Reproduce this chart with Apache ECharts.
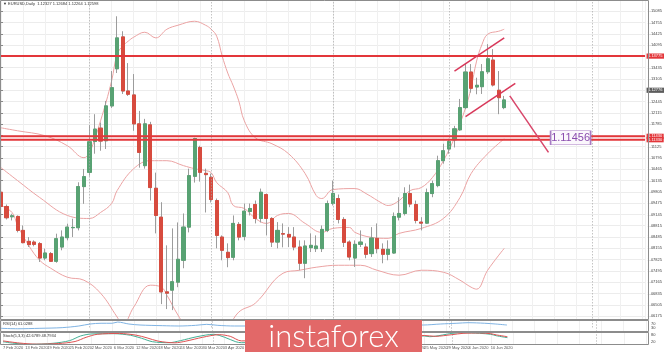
<!DOCTYPE html>
<html><head><meta charset="utf-8">
<script src="https://cdn.jsdelivr.net/npm/echarts@6/dist/echarts.min.js"></script>
<style>html,body{margin:0;padding:0;background:#fff}#c{width:665px;height:352px}</style>
</head><body><div id="c"></div>
<script>
const dates = ["7 Feb 2020","10 Feb 2020","11 Feb 2020","12 Feb 2020","13 Feb 2020","14 Feb 2020","17 Feb 2020","18 Feb 2020","19 Feb 2020","20 Feb 2020","21 Feb 2020","24 Feb 2020","25 Feb 2020","26 Feb 2020","27 Feb 2020","28 Feb 2020","2 Mar 2020","3 Mar 2020","4 Mar 2020","5 Mar 2020","6 Mar 2020","9 Mar 2020","10 Mar 2020","11 Mar 2020","12 Mar 2020","13 Mar 2020","16 Mar 2020","17 Mar 2020","18 Mar 2020","19 Mar 2020","20 Mar 2020","23 Mar 2020","24 Mar 2020","25 Mar 2020","26 Mar 2020","27 Mar 2020","30 Mar 2020","31 Mar 2020","1 Apr 2020","2 Apr 2020","3 Apr 2020","6 Apr 2020","7 Apr 2020","8 Apr 2020","9 Apr 2020","10 Apr 2020","13 Apr 2020","14 Apr 2020","15 Apr 2020","16 Apr 2020","17 Apr 2020","20 Apr 2020","21 Apr 2020","22 Apr 2020","23 Apr 2020","24 Apr 2020","27 Apr 2020","28 Apr 2020","29 Apr 2020","30 Apr 2020","1 May 2020","4 May 2020","5 May 2020","6 May 2020","7 May 2020","8 May 2020","11 May 2020","12 May 2020","13 May 2020","14 May 2020","15 May 2020","18 May 2020","19 May 2020","20 May 2020","21 May 2020","22 May 2020","25 May 2020","26 May 2020","27 May 2020","28 May 2020","29 May 2020","1 Jun 2020","2 Jun 2020","3 Jun 2020","4 Jun 2020","5 Jun 2020","8 Jun 2020","9 Jun 2020","10 Jun 2020","11 Jun 2020","12 Jun 2020","15 Jun 2020"];

const opens = [1.09794,1.09378,1.09078,1.09087,1.08679,1.08359,1.08338,1.08292,1.07872,1.08000,1.07776,1.08193,1.08466,1.08758,1.08758,1.09960,1.10376,1.11279,1.11669,1.11300,1.12319,1.13405,1.14336,1.12755,1.12639,1.11794,1.10572,1.11765,1.09911,1.09066,1.06882,1.06932,1.07165,1.07805,1.08775,1.10260,1.11104,1.10347,1.10231,1.09552,1.08484,1.08038,1.07893,1.08854,1.08504,1.09232,1.09436,1.09028,1.09727,1.09028,1.08338,1.08583,1.08562,1.08484,1.08193,1.07718,1.08175,1.08146,1.08146,1.08679,1.09465,1.09611,1.08999,1.08338,1.07872,1.08271,1.08193,1.08000,1.08446,1.08126,1.07980,1.08018,1.09066,1.09174,1.09756,1.09436,1.08921,1.08891,1.09756,1.09989,1.10717,1.11058,1.11329,1.11620,1.12269,1.13309,1.12872,1.12881,1.13317,1.13658,1.12776,1.12269];
const closes = [1.09378,1.09049,1.09107,1.08679,1.08321,1.08263,1.08271,1.07872,1.08018,1.07776,1.08437,1.08484,1.08775,1.08766,1.09960,1.10251,1.11270,1.11640,1.11291,1.12319,1.12851,1.14307,1.12755,1.12659,1.11794,1.10959,1.11794,1.09931,1.09116,1.06882,1.06844,1.07179,1.07834,1.08775,1.10280,1.11366,1.10376,1.10310,1.09582,1.08533,1.08097,1.07884,1.08883,1.08484,1.09241,1.09320,1.09028,1.09794,1.09028,1.08338,1.08679,1.08571,1.08484,1.08193,1.07718,1.08222,1.08242,1.08222,1.08708,1.09465,1.09756,1.08999,1.08329,1.07901,1.08271,1.08338,1.07980,1.08455,1.08146,1.07980,1.08126,1.09087,1.09174,1.09756,1.09451,1.08970,1.08891,1.09785,1.10047,1.10717,1.11008,1.11279,1.11649,1.12269,1.13309,1.12834,1.12921,1.13317,1.13696,1.12930,1.12560,1.12493];
const highs = [1.09873,1.09436,1.09165,1.09116,1.08824,1.08484,1.08388,1.08338,1.08146,1.08047,1.08583,1.08679,1.08874,1.09020,1.10085,1.10475,1.11765,1.12077,1.11832,1.12464,1.13338,1.14939,1.14502,1.13571,1.13250,1.12173,1.11940,1.11853,1.10368,1.09503,1.08242,1.08737,1.08912,1.09174,1.10484,1.11387,1.11154,1.10484,1.10339,1.09611,1.08533,1.08300,1.09116,1.08921,1.09465,1.09465,1.09552,1.09902,1.09756,1.09066,1.08921,1.08883,1.08775,1.08775,1.08388,1.08388,1.08592,1.08533,1.08824,1.09552,1.10135,1.09727,1.09066,1.08388,1.08388,1.08679,1.08300,1.08775,1.08883,1.08300,1.08388,1.09203,1.09649,1.09940,1.10018,1.09552,1.09066,1.09902,1.10135,1.10863,1.11212,1.11358,1.11736,1.12522,1.13571,1.13542,1.13143,1.13542,1.14124,1.13978,1.13338,1.12610];
const lows = [1.09320,1.08999,1.08970,1.08621,1.08300,1.08193,1.08213,1.07756,1.07805,1.07756,1.07733,1.08097,1.08388,1.08484,1.08679,1.09456,1.10280,1.10921,1.11008,1.11058,1.12260,1.13280,1.12668,1.12610,1.11591,1.10513,1.10484,1.09552,1.08592,1.06524,1.06379,1.06349,1.07019,1.07572,1.08621,1.10077,1.10106,1.09203,1.09494,1.08155,1.07805,1.07602,1.07805,1.08388,1.08388,1.09116,1.08883,1.08912,1.08533,1.08193,1.08155,1.08184,1.08193,1.08097,1.07514,1.07281,1.08047,1.08047,1.08047,1.08629,1.09407,1.08883,1.08193,1.07805,1.07610,1.08193,1.07864,1.07901,1.08009,1.07718,1.07805,1.07995,1.08970,1.09116,1.09357,1.08883,1.08679,1.08868,1.09649,1.09940,1.10630,1.10921,1.11104,1.11591,1.12223,1.12706,1.12659,1.12668,1.13250,1.12886,1.12077,1.12223];

const bbUpper = [[0,1.11678],[3,1.11591],[8,1.11445],[12,1.11154],[15,1.10805],[16,1.10950],[18,1.11882],[20,1.13047],[21,1.13833],[22,1.14066],[23,1.14211],[24,1.14328],[26,1.14473],[28,1.14307],[30,1.14561],[32,1.14677],[35,1.14794],[37,1.14677],[38,1.14561],[39,1.14357],[40,1.13775],[41,1.13280],[42,1.12901],[43,1.12464],[44,1.11882],[46,1.11387],[49,1.11212],[52,1.10921],[55,1.10339],[57,1.09698],[58,1.09611],[60,1.09873],[64,1.09902],[66,1.09756],[69,1.09465],[70,1.09407],[72,1.09552],[74,1.09844],[76,1.09931],[78,1.10222],[80,1.10717],[82,1.11387],[84,1.12260],[85,1.12843],[86,1.13629],[87,1.14124],[88,1.14415],[90,1.14502],[91,1.14561]];
const bbMiddle = [[0,1.10513],[3,1.10135],[7,1.09640],[12,1.09116],[16,1.09028],[18,1.09203],[20,1.09465],[21,1.09844],[24,1.10484],[27,1.10717],[30,1.10717],[33,1.10572],[35,1.10484],[37,1.10426],[38,1.10368],[39,1.10077],[41,1.09785],[42,1.09407],[44,1.09320],[46,1.09028],[48,1.08883],[50,1.09116],[52,1.09174],[55,1.08883],[58,1.08621],[60,1.08737],[63,1.08766],[64,1.08621],[67,1.08475],[70,1.08446],[72,1.08592],[76,1.08737],[80,1.09028],[83,1.09640],[85,1.10339],[88,1.10921],[91,1.11358]];
const bbLower = [[0,1.09407],[2,1.09203],[3,1.08824],[5,1.08242],[7,1.07805],[9,1.07572],[12,1.07310],[15,1.07223],[18,1.06844],[21,1.06146],[22,1.05913],[24,1.06437],[27,1.07077],[29,1.07019],[30,1.06786],[32,1.06204],[34,1.05767],[39,1.05476],[43,1.06291],[46,1.06553],[51,1.07427],[54,1.07514],[57,1.07602],[61,1.07660],[65,1.07660],[68,1.07514],[72,1.07369],[76,1.07514],[80,1.07456],[83,1.07223],[85,1.07019],[86,1.06961],[88,1.07514],[91,1.08155]];

const rsiValues = [[0,29],[3,25],[7,29],[11,35],[14,50],[16,68],[18,75],[20,75],[21,86],[23,68],[25,59],[29,53],[32,50],[35,56],[37,65],[39,56],[42,50],[76,59],[79,68],[82,75],[84,80],[87,75],[89,68],[91,59]];
const stochMain = [[0,23],[2,10],[5,2],[9,10],[12,32],[14,71],[16,88],[20,90],[23,77],[25,52],[27,23],[30,15],[32,32],[35,65],[38,85],[40,60],[42,23],[43,15],[76,71],[77,65],[80,85],[81,93],[83,98],[86,93],[88,85],[89,73],[91,57]];
const stochSignal = [[0,30],[3,12],[6,3],[10,8],[13,25],[15,60],[17,85],[21,92],[24,78],[26,55],[28,28],[31,14],[33,28],[36,60],[39,82],[41,68],[43,30],[76,75],[78,68],[81,82],[83,93],[86,96],[88,90],[89,80],[91,65]];

const channelUpper = [[82,1.13338],[91,1.14307]];
const channelLower = [[84,1.12007],[93,1.12980]];
const arrowLine = [[92,1.12610],[99,1.10959]];
const levelPrices = [1.13775,1.11430,1.11330];
const currentPrice = 1.12776;
const separators = [16,38,60,81,107];
const targetNote = [[103,1.11387]];
const targetText = '1.11456';

const priceMin = 1.05845, priceMax = 1.15415, priceStep = 0.0033;
const xMax = 116.46;

const chart = echarts.init(document.getElementById('c'), null, {renderer:'canvas', width:665, height:352});
const FONT = 'Liberation Sans, Arial, sans-serif';
const wickData = opens.map((o,i)=>[i,o,closes[i],lows[i],highs[i]]);
const bodyData = opens.map((o,i)=>[i,o,closes[i],Math.min(o,closes[i]),Math.max(o,closes[i])]);
const sepLine = {silent:true, symbol:['none','none'], label:{show:false}, lineStyle:{color:'#a8a8a8', type:[1,2], width:1}, data: separators.map(v=>({xAxis:v}))};
const red = '#e3363a';
const endLbl = (bg, txt)=>({show:true, distance:1.5, fontSize:4, color:'#fff', backgroundColor:bg, padding:[0.6,1.5], fontFamily:FONT, formatter:txt});
const xBase = {type:'value', min:0, max:xMax, interval:4, axisLine:{show:false}, axisTick:{show:false}, axisLabel:{show:false}, splitLine:{show:true, lineStyle:{color:'#f0f0f0', width:1}}};

const levelSeries = levelPrices.map(v=>({type:'line', data:[[0,v],[xMax,v]], symbol:'none', z:6, silent:true,
  lineStyle:{color:red, width:2}, endLabel:endLbl(red, v.toFixed(5))}));
const priceSeries = {type:'line', data:[[0,currentPrice],[xMax,currentPrice]], symbol:'none', z:6, silent:true,
  lineStyle:{opacity:0}, endLabel:endLbl('#5c5c5c', currentPrice.toFixed(5))};

const option = {
  animation:false,
  textStyle:{fontFamily:FONT},
  grid:[
    {left:1, top:-1.333, width:647.5, height:328.667},
    {left:1, top:320.5, width:647.5, height:11},
    {left:1, top:332.5, width:647.5, height:12}
  ],
  xAxis:[
    Object.assign({gridIndex:0}, xBase),
    Object.assign({gridIndex:1, z:10}, xBase),
    Object.assign({}, xBase, {gridIndex:2, z:10, axisLabel:{show:true, fontSize:4, color:'#555', align:'left', margin:1.5, formatter:v=>dates[v]||''}})
  ],
  yAxis:[
    {gridIndex:0, type:'value', position:'right', min:priceMin, max:priceMax, interval:priceStep,
     axisLine:{show:false}, axisTick:{show:true, length:2, lineStyle:{color:'#888'}},
     axisLabel:{fontSize:4, color:'#444', margin:2.5, showMinLabel:false, showMaxLabel:false, formatter:v=>v.toFixed(5)},
     splitLine:{show:true, lineStyle:{color:'#ececec', width:1}}},
    {gridIndex:1, type:'value', position:'right', min:0, max:100, interval:10, z:10,
     axisLine:{show:false}, axisTick:{show:false}, splitLine:{show:false},
     axisLabel:{fontSize:4, color:'#444', margin:2.5, formatter:v=>(v===30||v===70)?String(v):''}},
    {gridIndex:2, type:'value', position:'right', min:0, max:100, interval:10, z:10,
     axisLine:{show:false}, axisTick:{show:false}, splitLine:{show:false},
     axisLabel:{fontSize:4, color:'#444', margin:2.5, formatter:v=>(v===20||v===80)?String(v):''}}
  ],
  series:[
    {type:'line', name:'bbUpper', data:bbUpper, symbol:'none', smooth:0.4, lineStyle:{color:'#eba3a3', width:1}, z:2, markLine:sepLine},
    {type:'line', name:'bbMiddle', data:bbMiddle, symbol:'none', smooth:0.4, lineStyle:{color:'#eba3a3', width:1}, z:2},
    {type:'line', name:'bbLower', data:bbLower, symbol:'none', smooth:0.4, lineStyle:{color:'#eba3a3', width:1}, z:2},
    {type:'candlestick', name:'wicks', data:wickData, encode:{x:0, y:[1,2,3,4]}, barWidth:3.6, z:3,
     itemStyle:{color:'rgba(0,0,0,0)', color0:'rgba(0,0,0,0)', borderColor:'#9c9c9c', borderColor0:'#9c9c9c', borderWidth:1}},
    {type:'candlestick', name:'bodies', data:bodyData, encode:{x:0, y:[1,2,3,4]}, barWidth:3.6, z:4,
     itemStyle:{color:'#58a273', color0:'#d74b3e', borderColor:'#58a273', borderColor0:'#d74b3e', borderWidth:1}},
    ...levelSeries,
    priceSeries,
    {type:'line', data:channelUpper, symbol:'none', lineStyle:{color:'#d8385a', width:1.5}, z:7},
    {type:'line', data:channelLower, symbol:'none', lineStyle:{color:'#d8385a', width:1.5}, z:7},
    {type:'line', data:arrowLine, symbol:'none', lineStyle:{color:'#d8466a', width:1.5}, z:7},
    {type:'scatter', data:targetNote, symbol:'rect', symbolSize:[40,14], z:15,
     itemStyle:{color:'#fbf7fc', borderColor:'#a77cc4', borderWidth:1, opacity:1},
     label:{show:true, position:'inside', formatter:targetText, color:'#8a4cae', fontSize:11, fontFamily:FONT}},
    {type:'line', xAxisIndex:1, yAxisIndex:1, data:rsiValues, symbol:'none', smooth:0.3, lineStyle:{color:'#7fb3e3', width:1}, z:10, markLine:sepLine},
    {type:'line', xAxisIndex:2, yAxisIndex:2, data:stochMain, symbol:'none', smooth:0.3, lineStyle:{color:'#44b096', width:1}, z:10, markLine:sepLine},
    {type:'line', xAxisIndex:2, yAxisIndex:2, data:stochSignal, symbol:'none', smooth:0.3, lineStyle:{color:'#e05252', width:1}, z:10}
  ],
  graphic:[
    {type:'rect', z:5, silent:true, shape:{x:0, y:319.5, width:665, height:33}, style:{fill:'#fff'}},
    {type:'rect', z:12, silent:true, shape:{x:0.5, y:0.5, width:648, height:319}, style:{fill:null, stroke:'#8c8c8c', lineWidth:1}},
    {type:'rect', z:12, silent:true, shape:{x:0.5, y:320.5, width:648, height:11}, style:{fill:null, stroke:'#8c8c8c', lineWidth:1}},
    {type:'rect', z:12, silent:true, shape:{x:0.5, y:332.5, width:648, height:12}, style:{fill:null, stroke:'#8c8c8c', lineWidth:1}},
    {type:'text', z:12, silent:true, x:3, y:1.8, style:{text:'\u25BC EURUSD,Daily  1.12327 1.12684 1.12264 1.12598', fontSize:4, fill:'#333', fontFamily:FONT}},
    {type:'text', z:12, silent:true, x:3, y:321.5, style:{text:'RSI(14) 61.0288', fontSize:4, fill:'#333', fontFamily:FONT}},
    {type:'text', z:12, silent:true, x:3, y:333.5, style:{text:'Stoch(5,3,3) 42.6789 48.7934', fontSize:4, fill:'#333', fontFamily:FONT}},
    {type:'rect', z:20, silent:true, shape:{x:245, y:320, width:177, height:32}, style:{fill:'#e26868'}},
    {type:'text', z:21, silent:true, x:333.5, y:337, style:{text:'instaforex', fontSize:31, fontWeight:300, fontFamily:'Lato, Open Sans, sans-serif', fill:'#fff', textAlign:'center', textVerticalAlign:'middle'}}
  ]
};
chart.setOption(option);
</script>
</body></html>
